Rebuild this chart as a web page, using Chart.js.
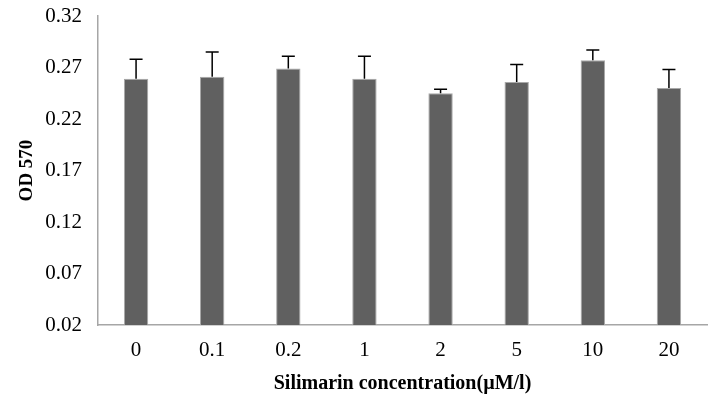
<!DOCTYPE html>
<html>
<head>
<meta charset="utf-8">
<script src="https://cdn.jsdelivr.net/npm/chart.js@4"></script>
<style>
  html, body { margin: 0; padding: 0; background: #fff; }
  #wrap { width: 708px; height: 396px; }
</style>
</head>
<body>
<div id="wrap"><canvas id="odChart"></canvas></div>
<script>
// data
const categories = ["0", "0.1", "0.2", "1", "2", "5", "10", "20"];
const odValues = [0.259, 0.261, 0.269, 0.259, 0.245, 0.256, 0.277, 0.250];
const odErrors = [0.019, 0.024, 0.012, 0.022, 0.004, 0.017, 0.010, 0.018];
const yTicks = [0.02, 0.07, 0.12, 0.17, 0.22, 0.27, 0.32];

// draws the upper error bar of each column
const errorBars = {
    id: "errorBars",
    afterDatasetsDraw(chart) {
        const ctx = chart.ctx;
        const yScale = chart.scales.y;
        const meta = chart.getDatasetMeta(0);
        ctx.save();
        ctx.strokeStyle = "#000";
        ctx.lineWidth = 1.5;
        meta.data.forEach((bar, i) => {
            const top = yScale.getPixelForValue(odValues[i] + odErrors[i]);
            ctx.beginPath();
            ctx.moveTo(bar.x, bar.y);
            ctx.lineTo(bar.x, top);
            ctx.moveTo(bar.x - 6.5, top);
            ctx.lineTo(bar.x + 6.5, top);
            ctx.stroke();
        });
        ctx.restore();
    },
};

const ctx = document.getElementById("odChart").getContext("2d");
new Chart(ctx, {
    type: "bar",
    data: {
        labels: categories,
        datasets: [
            {
                data: odValues,
                backgroundColor: "#606060",
                borderColor: "#a8a8a8",
                borderWidth: { top: 1, left: 1, right: 1, bottom: 0 },
                barPercentage: 0.32,
                categoryPercentage: 1.0,
            },
        ],
    },
    options: {
        responsive: true,
        maintainAspectRatio: false,
        animation: false,
        layout: { padding: { top: 16, right: 1, left: 0, bottom: 0 } },
        plugins: {
            legend: { display: false },
            tooltip: { enabled: false },
        },
        scales: {
            x: {
                grid: { display: false },
                border: { color: "#a6a6a6", width: 1.5 },
                ticks: {
                    color: "#000",
                    padding: 5,
                    font: { family: "Liberation Serif", size: 21 },
                },
                title: {
                    display: true,
                    text: "Silimarin concentration(µM/l)",
                    color: "#000",
                    padding: { top: 0, bottom: 0 },
                    font: { family: "Liberation Serif", size: 20, weight: "bold" },
                },
                afterFit(scale) {
                    scale.height = 71;
                },
            },
            y: {
                min: 0.02,
                max: 0.32,
                grid: { display: false },
                border: { color: "#a6a6a6", width: 1.5 },
                afterBuildTicks(scale) {
                    scale.ticks = yTicks.map((v) => ({ value: v }));
                },
                ticks: {
                    color: "#000",
                    padding: 8,
                    font: { family: "Liberation Serif", size: 21 },
                    callback: (value) => value.toFixed(2),
                },
                title: {
                    display: true,
                    text: "OD 570",
                    color: "#000",
                    padding: { top: 16, bottom: 0 },
                    font: { family: "Liberation Serif", size: 19, weight: "bold" },
                },
                afterFit(scale) {
                    scale.width = 98;
                    scale.paddingTop = 0;
                    scale.paddingBottom = 0;
                },
            },
        },
    },
    plugins: [errorBars],
});
</script>
</body>
</html>
